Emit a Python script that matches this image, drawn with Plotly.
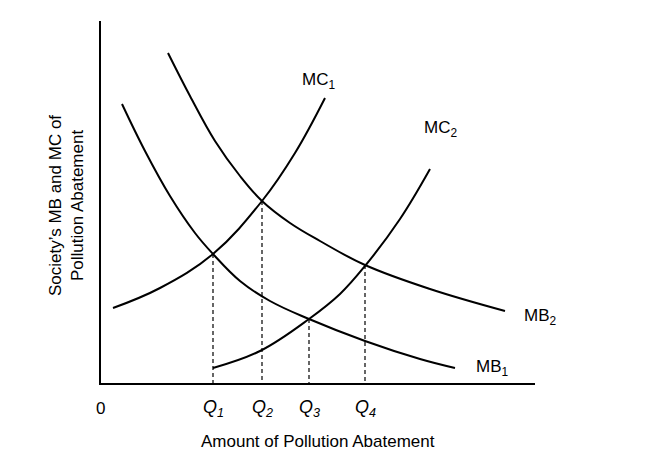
import plotly.graph_objects as go

# curve points (schematic coordinates; y measured downward)
mc1_x = [113, 160, 213, 262, 295, 325]
mc1_y = [307, 287, 253, 200, 152, 97]
mc2_x = [213, 260, 309, 340, 365, 400, 430]
mc2_y = [367, 350, 318, 293, 265, 218, 168]
mb1_x = [122, 145, 170, 195, 213, 240, 270, 309, 365, 420, 455]
mb1_y = [103, 150, 195, 232, 253, 280, 300, 318, 340, 358, 367]
mb2_x = [168, 190, 215, 240, 262, 290, 320, 365, 430, 505]
mb2_y = [52, 95, 140, 175, 200, 222, 240, 264, 288, 310]
q_x = [213, 262, 309, 365]
q_y = [253, 200, 318, 264]
q_labels = ["Q<sub>1</sub>", "Q<sub>2</sub>", "Q<sub>3</sub>", "Q<sub>4</sub>"]
axis_origin = (100, 383)
axis_x_end = 535
axis_y_top = 20

FONT = "Liberation Sans, Arial, sans-serif"
fig = go.Figure()
for xs, ys in [(mc1_x, mc1_y), (mc2_x, mc2_y), (mb1_x, mb1_y), (mb2_x, mb2_y)]:
    fig.add_trace(go.Scatter(x=xs, y=ys, mode="lines", line=dict(color="black", width=2, shape="spline", smoothing=1.1), hoverinfo="skip"))
fig.add_trace(go.Scatter(x=[axis_origin[0], axis_origin[0], axis_x_end], y=[axis_y_top, axis_origin[1], axis_origin[1]],
                         mode="lines", line=dict(color="black", width=2), hoverinfo="skip"))
for qx, qy, ql in zip(q_x, q_y, q_labels):
    fig.add_trace(go.Scatter(x=[qx, qx], y=[qy, axis_origin[1]], mode="lines",
                             line=dict(color="black", width=1.2, dash="4px,3px"), hoverinfo="skip"))
    fig.add_annotation(x=qx, y=407, text="<i>" + ql + "</i>", showarrow=False, font=dict(size=18, family=FONT, color="black"))

labels = [(318, 80, "MC<sub>1</sub>"), (440, 128, "MC<sub>2</sub>"), (540, 316, "MB<sub>2</sub>"),
          (492, 367, "MB<sub>1</sub>"), (100, 407, "0"), (318, 440, "Amount of Pollution Abatement")]
for x, y, t in labels:
    fig.add_annotation(x=x, y=y, text=t, showarrow=False, font=dict(size=17, family=FONT, color="black"))
fig.add_annotation(x=66, y=205, text="Society’s MB and MC of<br>Pollution Abatement", textangle=-90,
                   showarrow=False, font=dict(size=17, family=FONT, color="black"))

fig.update_layout(width=653, height=463, margin=dict(l=0, r=0, t=0, b=0), showlegend=False,
                  plot_bgcolor="white", paper_bgcolor="white",
                  xaxis=dict(range=[8, 661], visible=False, fixedrange=True),
                  yaxis=dict(range=[470, 7], visible=False, fixedrange=True))
fig.write_html("out.html")
